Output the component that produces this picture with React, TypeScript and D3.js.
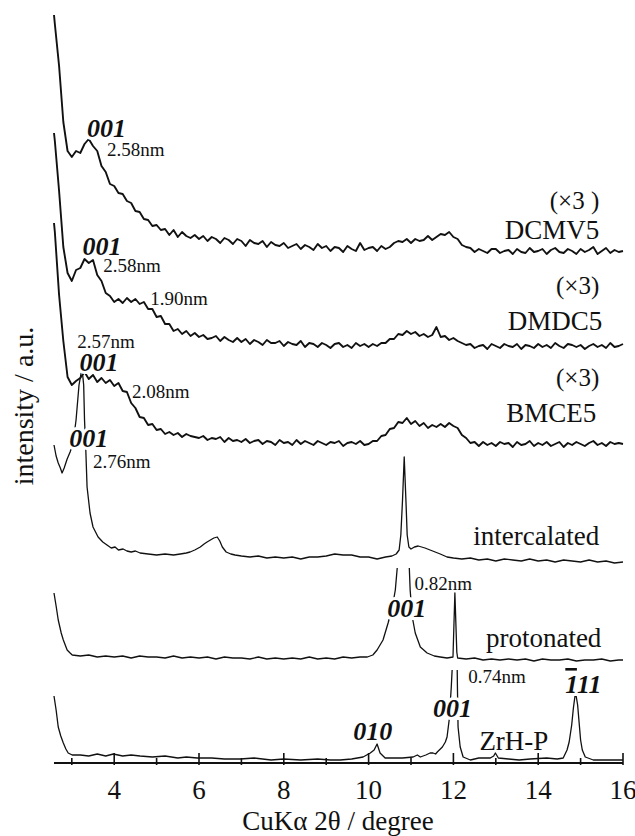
import React from 'react';
import { scaleLinear, line, range } from 'd3';

// 2θ grid of the three (×3) scans, one reading every 0.1°
const twoTheta = [2.58, ...range(26, 161).map(i => i / 10)];

// heights above each trace's own baseline
const dcmv5 = [
  237, 228, 186, 130, 101,
  95, 101, 99, 108, 113, 106, 101, 86, 80, 68,
  66, 59, 58, 51, 49, 41, 40, 33, 32, 26,
  27, 22, 23, 17, 22, 15, 20, 16, 14, 17,
  13, 16, 11, 15, 13, 9, 14, 12, 8, 13,
  11, 6, 12, 9, 8, 11, 5, 10, 7, 6,
  9, 4, 6, 8, 3, 7, 5, 2, 8, 4,
  6, 1, 5, 4, 0, 6, 3, 1, 9, 2,
  4, 5, 1, 6, 3, 5, 9, 11, 10, 13,
  9, 13, 11, 12, 16, 12, 15, 18, 17, 20,
  15, 13, 7, 5, 4, 0, 3, 1, -1, 3,
  3, -1, 1, 2, -2, 3, 0, -1, 4, 0,
  1, 3, -2, 2, 4, 0, -1, 3, 1, -2,
  3, 0, 2, 5, -2, 1, 4, -1, 2, 0,
  1,
];

const dmdc5 = [
  214, 206, 156, 100, 74,
  66, 77, 79, 88, 84, 87, 72, 66, 54, 51,
  45, 48, 44, 49, 45, 48, 43, 45, 38, 38,
  30, 31, 23, 23, 16, 18, 13, 16, 11, 14,
  10, 12, 8, 9, 11, 6, 10, 7, 5, 9,
  5, 8, 3, 7, 5, 2, 7, 4, 4, 6,
  1, 5, 3, 2, 6, 0, 4, 3, 0, 4,
  2, -1, 3, 4, 0, 2, -1, 4, 1, 3,
  0, 3, 1, 4, 4, 8, 8, 13, 12, 16,
  13, 15, 11, 13, 10, 12, 20, 10, 11, 7,
  9, 6, 4, 2, 3, -1, 1, 2, -2, 3,
  1, -1, 3, 1, 0, 3, -2, 2, 1, -1,
  3, 0, 2, -1, 4, 1, -1, 3, 2, 0,
  2, -2, 1, 3, 0, 2, -1, 4, 0, 1,
  3,
];

const bmce5 = [
  222, 213, 150, 104, 68,
  60, 64, 67, 73, 66, 70, 63, 67, 62, 65,
  59, 62, 54, 53, 42, 37, 28, 27, 20, 21,
  15, 16, 11, 13, 10, 12, 8, 11, 9, 8,
  7, 9, 5, 7, 6, 8, 3, 7, 4, 5,
  3, 6, 2, 4, 5, 1, 4, 3, 0, 5,
  2, 3, 0, 5, 1, 4, 2, 0, 4, 2,
  0, 3, 2, 4, -1, 2, 3, 1, 4, 0,
  1, 4, 4, 9, 10, 16, 17, 23, 22, 27,
  21, 24, 19, 22, 17, 20, 18, 21, 18, 22,
  19, 17, 10, 7, 2, 3, -1, 3, 0, 2,
  -1, 3, 1, 2, -2, 3, 0, 1, 4, -1,
  2, 0, 3, -1, 1, 3, -2, 2, 0, 3,
  1, -1, 2, 4, 0, 2, -1, 3, 1, 2,
  1,
];

// [2θ, height] readings; null = peak top running off into the trace above
const intercalated = [
  [2.58, 115], [2.63, 104], [2.68, 97], [2.73, 92], [2.77, 87], [2.82, 92], [2.89, 101],
  [2.96, 108], [3.03, 117], [3.1, 140], [3.17, 175], [3.24, 192], [3.28, 175], [3.3, 140],
  [3.33, 110], [3.36, 73], [3.43, 47], [3.5, 33], [3.62, 23], [3.73, 18], [3.83, 15],
  [3.93, 12], [4.02, 13], [4.1, 10], [4.21, 11], [4.3, 9], [4.4, 8], [4.5, 9], [4.61, 7],
  [4.8, 6], [5.0, 5], [5.2, 6], [5.4, 5], [5.56, 6], [5.7, 7], [5.79, 8], [5.9, 10],
  [6.03, 13], [6.12, 16], [6.19, 18], [6.27, 20], [6.35, 22], [6.43, 23], [6.49, 19],
  [6.55, 13], [6.64, 8], [6.75, 6], [6.85, 5], [7.0, 4], [7.2, 3], [7.4, 4], [7.6, 2],
  [7.8, 3], [8.0, 2], [8.2, 3], [8.4, 1], [8.6, 3], [8.8, 3], [9.0, 4], [9.2, 6], [9.4, 5],
  [9.6, 5], [9.8, 3], [10.0, 3], [10.2, 1], [10.4, 3], [10.55, 4], [10.65, 6], [10.72, 10],
  [10.76, 25], [10.8, 60], [10.84, 103], [10.88, 60], [10.91, 25], [10.95, 13], [11.0, 11],
  [11.08, 13], [11.17, 14], [11.25, 13], [11.33, 12], [11.45, 10], [11.57, 8], [11.69, 6],
  [11.85, 3], [12.0, 2], [12.2, 1], [12.4, 2], [12.6, 0], [12.8, 1], [13.0, -1], [13.2, 1],
  [13.4, 0], [13.6, -1], [13.8, 1], [14.0, -1], [14.2, 0], [14.4, -2], [14.6, 0], [14.8, -1],
  [15.0, -2], [15.2, 0], [15.4, -2], [15.6, -1], [15.8, -3], [16.0, -2],
];

const protonated = [
  [2.58, 65], [2.63, 52], [2.68, 38], [2.75, 25], [2.8, 18], [2.89, 8], [2.96, 5], [3.01, 3],
  [3.2, 2], [3.4, 3], [3.6, 1], [3.8, 2], [4.0, 1], [4.2, 2], [4.4, 0], [4.6, 2], [4.8, 1],
  [5.0, 1], [5.2, 0], [5.4, 2], [5.6, 0], [5.8, 1], [6.0, 0], [6.2, 1], [6.4, -1], [6.6, 1],
  [6.8, 0], [7.0, 0], [7.2, -1], [7.4, 1], [7.6, -1], [7.8, 0], [8.0, -1], [8.2, 0],
  [8.4, -1], [8.6, 1], [8.8, -1], [9.0, 0], [9.2, -1], [9.4, 1], [9.6, 0], [9.8, 1],
  [9.97, 1], [10.1, 3], [10.2, 8], [10.34, 18], [10.46, 35], [10.56, 51], [10.63, 68],
  [10.675, 90], [10.8, null], [10.96, 90], [10.98, 68], [11.03, 41], [11.1, 25], [11.22, 11],
  [11.38, 5], [11.55, 2], [11.69, 1], [11.85, 0], [11.99, 1], [12.035, 65], [12.08, 6],
  [12.1, 0], [12.3, -1], [12.5, 0], [12.7, -2], [12.9, -1], [13.1, -2], [13.3, -1], [13.5, -2],
  [13.7, -1], [13.9, -3], [14.1, -1], [14.3, -2], [14.5, -2], [14.7, -1], [14.9, -3],
  [15.1, -2], [15.3, -2], [15.5, -1], [15.7, -3], [15.9, -2], [16.0, -2],
];

const zrhp = [
  [2.58, 64], [2.63, 50], [2.68, 33], [2.74, 24], [2.8, 17], [2.86, 11], [2.915, 7], [3.01, 5],
  [3.2, 5], [3.4, 4], [3.6, 6], [3.8, 4], [3.98, 6], [4.2, 4], [4.4, 5], [4.61, 4], [4.9, 3],
  [5.2, 4], [5.5, 2], [5.7, 3], [5.96, 2], [6.3, 2], [6.6, 1], [6.97, 1], [7.3, 2], [7.7, 0],
  [8.0, 1], [8.4, 0], [8.8, 1], [9.1, 0], [9.33, 0], [9.6, 1], [9.87, 3], [10.04, 7],
  [10.13, 10], [10.2, 16], [10.27, 7], [10.39, 2], [10.6, 2], [10.8, 2], [11.05, 3],
  [11.15, 5], [11.22, 3], [11.35, 5], [11.45, 7], [11.52, 7], [11.58, 6], [11.62, 8],
  [11.74, 13], [11.81, 18], [11.85, 23], [11.9, 40], [11.95, 73], [11.97, 90], [12.03, null],
  [12.09, 90], [12.095, 73], [12.11, 33], [12.16, 13], [12.23, 3], [12.4, 0], [12.6, 2],
  [12.87, 2], [12.95, 4], [12.99, 7], [13.06, 2], [13.3, 1], [13.55, 0], [13.81, 1], [14.2, 2],
  [14.45, 1], [14.59, 2], [14.68, 10], [14.73, 18], [14.79, 35], [14.83, 52], [14.88, 68],
  [14.93, 55], [14.97, 35], [15.0, 20], [15.04, 10], [15.11, 3], [15.3, 0], [15.6, 0], [16.0, 0],
];

const majorTicks = [4, 6, 8, 10, 12, 14, 16];
const minorTicks = [3, 5, 7, 9, 11, 13, 15];

// stacked traces: baseline offset in the same arbitrary units
const traces = [
  { name: 'ZrH-P', offset: 4, points: zrhp, noisy: false },
  { name: 'protonated', offset: 106, points: protonated, noisy: false },
  { name: 'intercalated', offset: 204, points: intercalated, noisy: false },
  { name: 'BMCE5', offset: 319, points: twoTheta.map((t, i) => [t, bmce5[i]]), noisy: true },
  { name: 'DMDC5', offset: 417, points: twoTheta.map((t, i) => [t, dmdc5[i]]), noisy: true },
  { name: 'DCMV5', offset: 512, points: twoTheta.map((t, i) => [t, dcmv5[i]]), noisy: true },
];

// [text, 2θ, intensity]
const reflexLabels = [
  ['001', 3.36, 627], ['001', 3.25, 509], ['001', 3.18, 393], ['001', 2.94, 317],
  ['001', 10.44, 147], ['001', 11.52, 47], ['010', 9.64, 24],
];
const spacingLabels = [
  ['2.58nm', 3.83, 608], ['2.58nm', 3.74, 492], ['1.90nm', 4.85, 459], ['2.57nm', 3.13, 416],
  ['2.08nm', 4.42, 366], ['2.76nm', 3.5, 296], ['0.82nm', 11.08, 174], ['0.74nm', 12.35, 81],
];
const scaleLabels = [['(×3 )', 15.44, 555], ['(×3)', 15.44, 470], ['(×3)', 15.44, 378]];
const sampleLabels = [
  ['DCMV5', 15.44, 525], ['DMDC5', 15.51, 434], ['BMCE5', 15.37, 342],
  ['intercalated', 15.44, 219], ['protonated', 15.49, 117], ['ZrH-P', 14.24, 14],
];

const width = 635;
const height = 836;
const FONT = 'Liberation Serif';

const App = () => {
  const xScale = scaleLinear().domain([2.58, 16]).range([54, 623]);
  const yScale = scaleLinear().domain([0, 760]).range([764, 4]);
  const axisY = yScale(0) - 1;

  const makePath = (points, offset) =>
    line()
      .defined(d => d[1] !== null)
      .x(d => xScale(d[0]))
      .y(d => yScale(offset + d[1]))(points);

  return (
    <svg
      width={width}
      height={height}
      fontFamily={FONT}
      style={{ position: 'absolute', left: 0, top: 0, background: '#fff' }}
    >
      {traces.map(t =>
        <path
          key={`trace-${t.name}`}
          d={makePath(t.points, t.offset)}
          fill="none"
          stroke="#111"
          strokeWidth={t.noisy ? 1.9 : 1.3}
          strokeLinejoin="round"
        />
      )}

      {/* x axis */}
      <line x1={xScale(2.58)} x2={xScale(16)} y1={axisY} y2={axisY} stroke="#111" strokeWidth={2.2} />
      {majorTicks.map(v =>
        <g key={`major-${v}`} transform={`translate(${xScale(v)}, 0)`}>
          <line y1={axisY + 2} y2={axisY - 10} stroke="#111" strokeWidth={1.6} />
          <text y={799} textAnchor="middle" fontSize={27} fill="#111">{v}</text>
        </g>
      )}
      {minorTicks.map(v =>
        <line key={`minor-${v}`} x1={xScale(v)} x2={xScale(v)} y1={axisY + 2} y2={axisY - 5}
          stroke="#111" strokeWidth={1.6} />
      )}
      <text x={338} y={830} textAnchor="middle" fontSize={27} fill="#111">CuKα 2θ / degree</text>
      <text transform="translate(33, 406) rotate(-90)" textAnchor="middle" fontSize={28} fill="#111">
        intensity / a.u.
      </text>

      {reflexLabels.map(([txt, t, v], i) =>
        <text key={`reflex-${i}`} x={xScale(t)} y={yScale(v)} fontSize={26} fontWeight="bold"
          fontStyle="italic" fill="#111" stroke="#fff" strokeWidth={6} paintOrder="stroke">
          {txt}
        </text>
      )}
      <text x={xScale(14.64)} y={yScale(71)} fontSize={26} fontWeight="bold" fontStyle="italic"
        fill="#111" stroke="#fff" strokeWidth={6} paintOrder="stroke">
        <tspan style={{ textDecoration: 'overline' }}>1</tspan>11
      </text>

      {spacingLabels.map(([txt, t, v], i) =>
        <text key={`spacing-${i}`} x={xScale(t)} y={yScale(v)} fontSize={19} fill="#111">{txt}</text>
      )}
      {scaleLabels.map(([txt, t, v], i) =>
        <text key={`scale-${i}`} x={xScale(t)} y={yScale(v)} textAnchor="end" fontSize={25} fill="#111">
          {txt}
        </text>
      )}
      {sampleLabels.map(([txt, t, v], i) =>
        <text key={`sample-${i}`} x={xScale(t)} y={yScale(v)} textAnchor="end" fontSize={27} fill="#111">
          {txt}
        </text>
      )}
    </svg>
  );
};

export default App;
